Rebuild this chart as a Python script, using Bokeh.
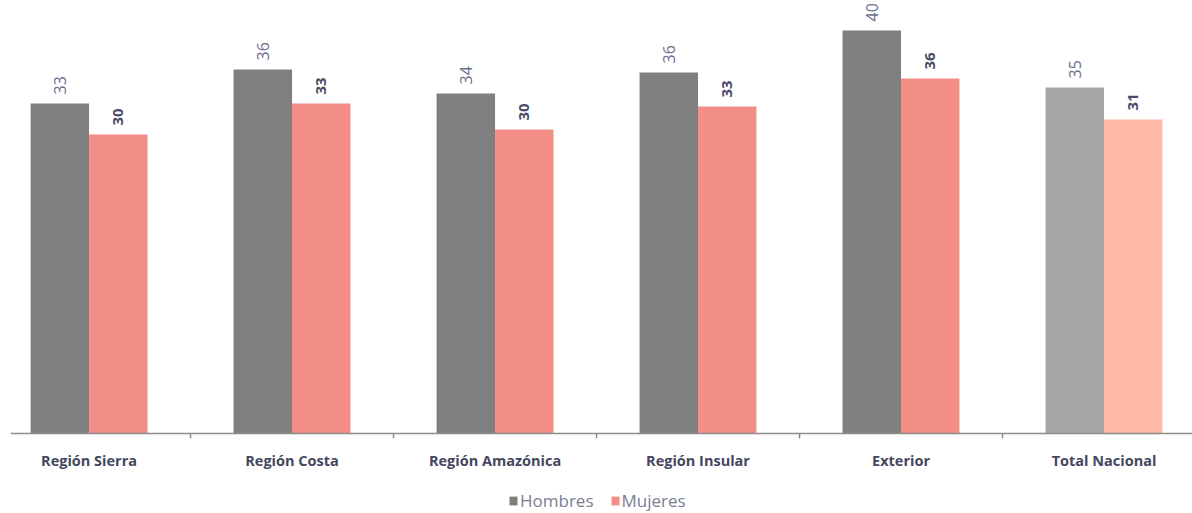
import math
from bokeh.plotting import figure
from bokeh.models import ColumnDataSource, Range1d, Legend, LegendItem, Span
from bokeh.core.properties import value
from bokeh.embed import file_html
from bokeh.resources import INLINE

categories = ["Región Sierra", "Región Costa", "Región Amazónica", "Región Insular", "Exterior", "Total Nacional"]
hombres = [33.0, 36.4, 34.0, 36.1, 40.3, 34.6]
mujeres = [29.9, 33.0, 30.4, 32.7, 35.5, 31.4]
hombres_colors = ["#7F7F7F", "#7F7F7F", "#7F7F7F", "#7F7F7F", "#7F7F7F", "#A6A6A6"]
mujeres_colors = ["#F28E86", "#F28E86", "#F28E86", "#F28E86", "#F28E86", "#FFBBA6"]

idx = list(range(len(categories)))
bw = 0.288
src_h = ColumnDataSource(dict(x=[i - bw / 2 for i in idx], top=hombres, color=hombres_colors,
                              label=[str(round(v)) for v in hombres]))
src_m = ColumnDataSource(dict(x=[i + bw / 2 for i in idx], top=mujeres, color=mujeres_colors,
                              label=[str(round(v)) for v in mujeres]))
src_c = ColumnDataSource(dict(x=idx, y=[0] * len(idx), name=categories))
bounds = [i + 0.5 for i in idx[:-1]]
src_t = ColumnDataSource(dict(x=bounds, y0=[0] * len(bounds), y1=[-0.5] * len(bounds)))

p = figure(width=1192, height=513, output_backend="svg", toolbar_location=None,
           x_range=Range1d(-0.387, 5.436), y_range=Range1d(-8.0, 43.3),
           min_border_left=10, min_border_right=0, min_border_top=0, min_border_bottom=0)
p.outline_line_color = None
p.grid.grid_line_color = None
p.xaxis.visible = False
p.yaxis.visible = False
p.background_fill_color = "white"
p.border_fill_color = "white"

rh = p.vbar(x="x", top="top", width=bw, bottom=0, color="color", line_color=None, source=src_h)
rm = p.vbar(x="x", top="top", width=bw, bottom=0, color="color", line_color=None, source=src_m)

p.text(x="x", y="top", text="label", source=src_h, angle=math.pi / 2, text_align="left",
       text_baseline="middle", x_offset=0, y_offset=-9, text_font=value("Open Sans"),
       text_font_size="16px", text_color="#6B6F8E")
p.text(x="x", y="top", text="label", source=src_m, angle=math.pi / 2, text_align="left",
       text_baseline="middle", x_offset=0, y_offset=-9, text_font=value("Open Sans"),
       text_font_size="15px", text_font_style="bold", text_color="#4A4D6A")

# category axis
p.add_layout(Span(location=0, dimension="width", line_color="#8C8C8C", line_width=1.5))
p.segment(x0="x", y0="y0", x1="x", y1="y1", source=src_t, line_color="#8C8C8C", line_width=1.5)
p.text(x="x", y="y", text="name", source=src_c, text_align="center", text_baseline="middle",
       y_offset=27, text_font=value("Open Sans"), text_font_style="bold",
       text_font_size="14.5px", text_color="#44475E")

legend = Legend(items=[LegendItem(label="Hombres", renderers=[rh]),
                       LegendItem(label="Mujeres", renderers=[rm])],
                orientation="horizontal", location=(498, 1),
                label_text_font="Open Sans", label_text_font_size="17px",
                label_text_color="#7A7D94", glyph_width=10, glyph_height=11,
                label_height=18, label_standoff=2, spacing=16, padding=0, margin=0,
                border_line_color=None, background_fill_alpha=0)
p.add_layout(legend)

open("out.html", "w").write(file_html(p, INLINE))
